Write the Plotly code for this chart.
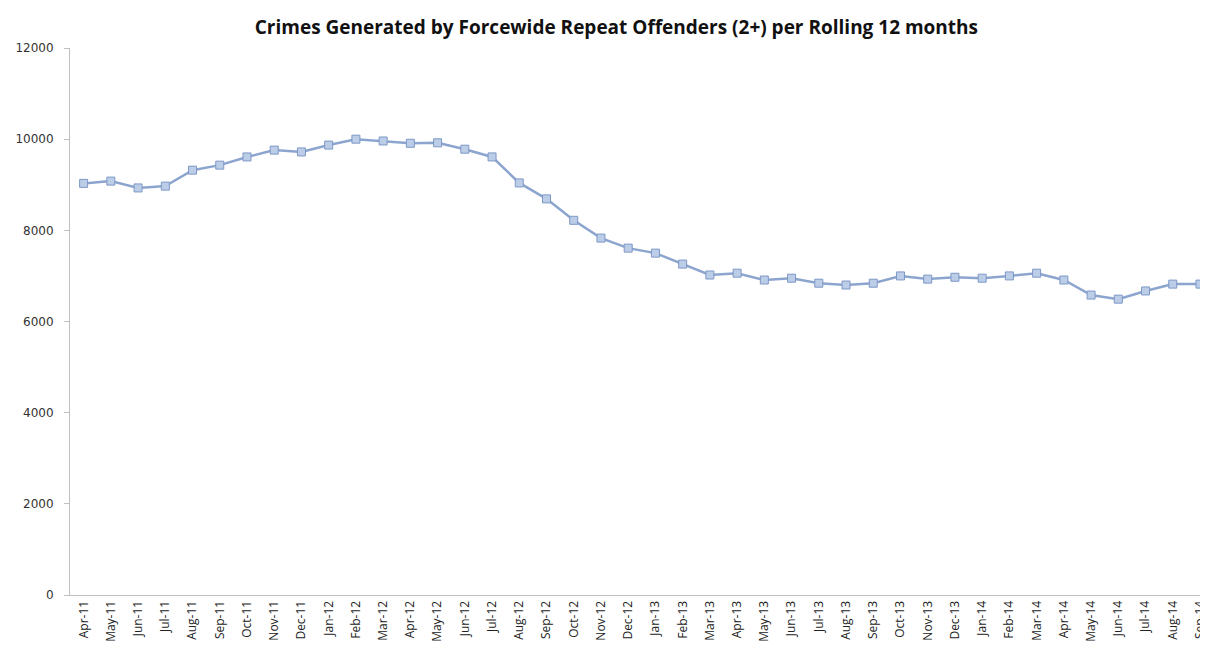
import plotly.graph_objects as go

months = ["Apr-11","May-11","Jun-11","Jul-11","Aug-11","Sep-11","Oct-11","Nov-11","Dec-11",
          "Jan-12","Feb-12","Mar-12","Apr-12","May-12","Jun-12","Jul-12","Aug-12","Sep-12",
          "Oct-12","Nov-12","Dec-12","Jan-13","Feb-13","Mar-13","Apr-13","May-13","Jun-13",
          "Jul-13","Aug-13","Sep-13","Oct-13","Nov-13","Dec-13","Jan-14","Feb-14","Mar-14",
          "Apr-14","May-14","Jun-14","Jul-14","Aug-14","Sep-14"]
crimes = [9030, 9080, 8930, 8970, 9320, 9430, 9610, 9760, 9720,
          9870, 10000, 9960, 9910, 9920, 9780, 9610, 9040, 8690,
          8220, 7830, 7610, 7500, 7260, 7020, 7060, 6910, 6950,
          6840, 6800, 6840, 7000, 6930, 6970, 6950, 7000, 7060,
          6910, 6580, 6490, 6670, 6820, 6820]
y_ticks = [0, 2000, 4000, 6000, 8000, 10000, 12000]

fig = go.Figure()
fig.add_trace(go.Scatter(
    x=list(range(len(months))), y=crimes, mode="lines+markers",
    line=dict(color="#8CA5CF", width=2.5),
    marker=dict(symbol="square", size=8, color="#BCCDE8",
                line=dict(color="#7D98C6", width=1)),
    cliponaxis=False, hoverinfo="y",
))
fig.update_layout(
    width=1200, height=637,
    margin=dict(l=62, r=0, t=40, b=50),
    paper_bgcolor="white", plot_bgcolor="white",
    showlegend=False,
    title=dict(text="<b>Crimes Generated by Forcewide Repeat Offenders (2+) per Rolling 12 months</b>",
               x=0.507, xanchor="center", y=0.970, yanchor="middle",
               font=dict(family="Open Sans", size=19, color="#111111")),
    font=dict(family="Open Sans", color="#222222"),
)
fig.update_xaxes(
    range=[-0.5, 41.0], tickmode="array", tickvals=list(range(len(months))),
    ticktext=months, tickangle=-90, ticklabeloverflow="allow",
    tickfont=dict(size=12, family="Liberation Sans Narrow, Open Sans", color="#222222"),
    showgrid=False, zeroline=False, showline=True, linecolor="#BFBFBF", linewidth=1,
    ticks="", fixedrange=True,
)
fig.update_yaxes(
    range=[0, 12000], tickmode="array", tickvals=y_ticks,
    ticktext=[str(v) for v in y_ticks], tickfont=dict(size=12, family="DejaVu Sans", color="#333333"),
    showgrid=False, zeroline=False, showline=True, linecolor="#BFBFBF", linewidth=1,
    ticks="outside", ticklen=5, tickcolor="#BFBFBF", ticklabelstandoff=8, fixedrange=True,
)
fig.write_html("out.html")
